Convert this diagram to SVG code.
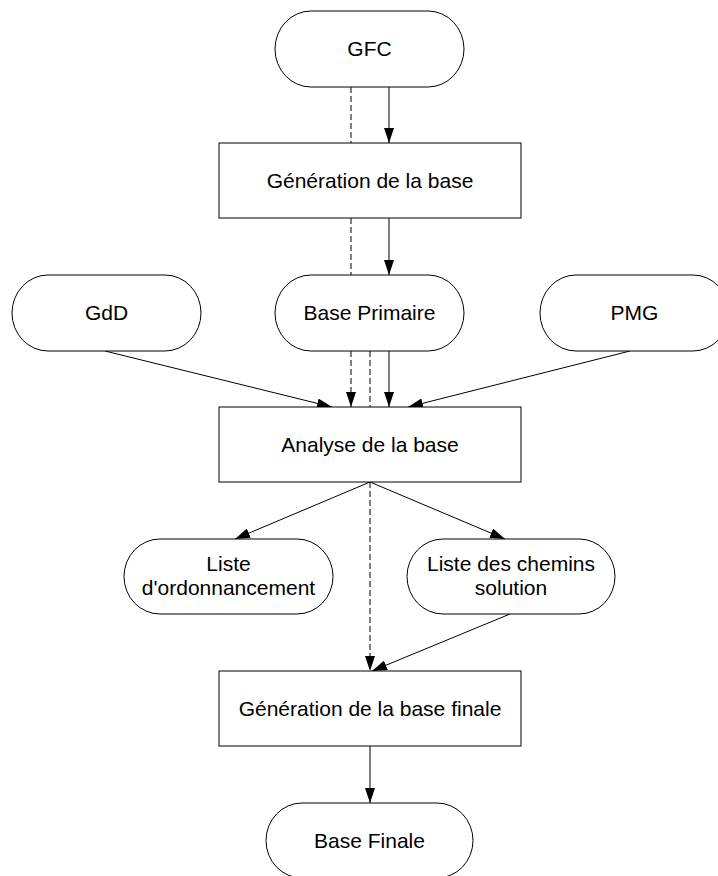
<svg xmlns="http://www.w3.org/2000/svg" width="718" height="876" viewBox="0 0 718 876">
<style>
.n{fill:#fff;stroke:#000;stroke-width:1}
.t{font-family:"Liberation Sans",Arial,sans-serif;font-size:21px;fill:#000;text-anchor:middle}
.c{fill:none;stroke:#000;stroke-width:1}
.d{fill:none;stroke:#000;stroke-width:1;stroke-dasharray:6,3}
</style>
<defs>
<marker id="ah" viewBox="0 0 15 10" refX="15" refY="5" markerWidth="15" markerHeight="10" markerUnits="userSpaceOnUse" orient="auto">
<path d="M0,0 L15,5 L0,10 Z" fill="#000"/>
</marker>
</defs>
<rect width="718" height="876" fill="#fff"/>
<g id="connectors">
<line class="d" x1="351" y1="87" x2="351" y2="143"/>
<line class="c" x1="389" y1="87" x2="389" y2="143" marker-end="url(#ah)"/>
<line class="d" x1="351" y1="218" x2="351" y2="275"/>
<line class="c" x1="389" y1="218" x2="389" y2="275" marker-end="url(#ah)"/>
<line class="c" x1="105" y1="351" x2="332" y2="407" marker-end="url(#ah)"/>
<line class="c" x1="630" y1="351" x2="408" y2="407" marker-end="url(#ah)"/>
<line class="d" x1="351" y1="351" x2="351" y2="407" marker-end="url(#ah)"/>
<line class="d" x1="370" y1="351" x2="370" y2="407"/>
<line class="c" x1="389" y1="351" x2="389" y2="407" marker-end="url(#ah)"/>
<line class="c" x1="370" y1="482" x2="235" y2="539" marker-end="url(#ah)"/>
<line class="c" x1="370" y1="482" x2="505" y2="539" marker-end="url(#ah)"/>
<line class="d" x1="370" y1="482" x2="370" y2="671" marker-end="url(#ah)"/>
<line class="c" x1="510" y1="614" x2="372" y2="671" marker-end="url(#ah)"/>
<line class="c" x1="370" y1="746" x2="370" y2="803" marker-end="url(#ah)"/>
</g>
<g id="gfc">
<rect class="n" x="275" y="11" width="189" height="76" rx="36" ry="38"/>
<text class="t" x="369.5" y="56">GFC</text>
</g>
<g id="generation-base">
<rect class="n" x="219" y="143" width="302" height="75"/>
<text class="t" x="370" y="188">Génération de la base</text>
</g>
<g id="gdd">
<rect class="n" x="12" y="275" width="189" height="76" rx="36" ry="38"/>
<text class="t" x="106.5" y="320">GdD</text>
</g>
<g id="base-primaire">
<rect class="n" x="275" y="275" width="189" height="76" rx="36" ry="38"/>
<text class="t" x="369.5" y="320">Base Primaire</text>
</g>
<g id="pmg">
<rect class="n" x="540" y="275" width="189" height="76" rx="36" ry="38"/>
<text class="t" x="634.5" y="320">PMG</text>
</g>
<g id="analyse-base">
<rect class="n" x="219" y="407" width="302" height="75"/>
<text class="t" x="370" y="452">Analyse de la base</text>
</g>
<g id="liste-ordonnancement">
<rect class="n" x="124" y="539" width="209" height="75" rx="36" ry="37.5"/>
<text class="t" x="228.5" y="571">Liste</text>
<text class="t" x="228.5" y="595">d'ordonnancement</text>
</g>
<g id="liste-chemins">
<rect class="n" x="407" y="539" width="208" height="75" rx="36" ry="37.5"/>
<text class="t" x="511" y="571">Liste des chemins</text>
<text class="t" x="511" y="595">solution</text>
</g>
<g id="generation-base-finale">
<rect class="n" x="219" y="671" width="302" height="75"/>
<text class="t" x="370" y="716">Génération de la base finale</text>
</g>
<g id="base-finale">
<rect class="n" x="266" y="803" width="207" height="75" rx="36" ry="37.5"/>
<text class="t" x="369.5" y="848">Base Finale</text>
</g>
</svg>
